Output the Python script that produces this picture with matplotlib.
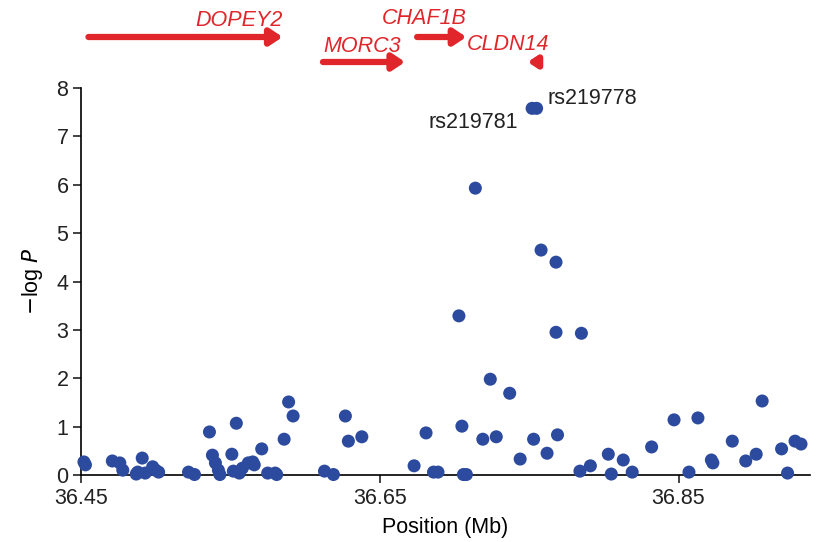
import matplotlib
matplotlib.use("Agg")
import matplotlib.pyplot as plt

plt.rcParams.update({
    "font.family": ["Liberation Sans", "DejaVu Sans"],
    "font.size": 15.5,
    "axes.linewidth": 1.2,
    "xtick.major.width": 1.2,
    "ytick.major.width": 1.2,
    "xtick.major.size": 6,
    "ytick.major.size": 6,
})

# SNP association data (position in Mb, -log P)
positions = [
    36.452, 36.453, 36.471, 36.476, 36.478, 36.491, 36.488, 36.487, 36.493, 36.498,
    36.500, 36.502, 36.522, 36.526, 36.536, 36.554, 36.538, 36.540, 36.542, 36.543,
    36.551, 36.552, 36.556, 36.558, 36.562, 36.565, 36.566, 36.571, 36.575, 36.580,
    36.581, 36.586, 36.589, 36.592, 36.613, 36.619, 36.627, 36.629, 36.638, 36.673,
    36.681, 36.686, 36.689, 36.703, 36.705, 36.706, 36.708, 36.714, 36.719, 36.724,
    36.728, 36.737, 36.744, 36.752, 36.755, 36.753, 36.758, 36.762, 36.768, 36.769,
    36.768, 36.785, 36.784, 36.791, 36.803, 36.805, 36.813, 36.819, 36.832, 36.847,
    36.857, 36.863, 36.872, 36.873, 36.886, 36.895, 36.902, 36.906, 36.919, 36.923,
    36.928, 36.932,
]
neg_log_p = [
    0.27, 0.21, 0.29, 0.25, 0.10, 0.35, 0.06, 0.02, 0.04, 0.17,
    0.10, 0.06, 0.06, 0.01, 0.89, 1.07, 0.41, 0.25, 0.10, 0.01,
    0.43, 0.08, 0.04, 0.14, 0.25, 0.27, 0.21, 0.54, 0.04, 0.04,
    0.01, 0.74, 1.51, 1.22, 0.08, 0.01, 1.22, 0.70, 0.79, 0.19,
    0.87, 0.06, 0.06, 3.29, 1.01, 0.01, 0.01, 5.93, 0.74, 1.98,
    0.79, 1.69, 0.33, 7.58, 7.58, 0.74, 4.65, 0.45, 4.40, 0.83,
    2.95, 2.93, 0.08, 0.19, 0.43, 0.02, 0.31, 0.06, 0.58, 1.14,
    0.06, 1.18, 0.31, 0.25, 0.70, 0.29, 0.43, 1.53, 0.54, 0.04,
    0.70, 0.64,
]

# lead SNPs
snp_names = ["rs219781", "rs219778"]
snp_pos = [36.752, 36.755]
snp_val = [7.58, 7.58]

# genes: name, start, end (Mb); end < start means reverse strand
gene_names = ["DOPEY2", "MORC3", "CHAF1B", "CLDN14"]
gene_start = [36.455, 36.612, 36.675, 36.757]
gene_end = [36.585, 36.667, 36.708, 36.749]

xticks = [36.45, 36.65, 36.85]
xlim = (36.45, 36.938)

BLUE = "#2C4A9E"
RED = "#E0262B"

fig = plt.figure(figsize=(8.17, 5.42), dpi=100)
ax = fig.add_axes([0.0991, 0.1236, 0.8923, 0.714])

ax.scatter(positions, neg_log_p, s=88, color=BLUE, edgecolors="none",
           zorder=3, clip_on=False)

ax.set_xlim(*xlim)
ax.set_ylim(0, 8)
ax.set_xticks(xticks)
ax.set_xticklabels([f"{t:.2f}" for t in xticks])
ax.set_yticks(range(0, 9))
ax.spines["top"].set_visible(False)
ax.spines["right"].set_visible(False)
ax.tick_params(axis="both", colors="#222222", labelcolor="#222222", pad=3)
ax.set_xlabel("Position (Mb)", labelpad=6)
ax.set_ylabel(r"$-$log $\it{P}$", labelpad=8)

# lead SNP labels
ax.annotate(snp_names[0], xy=(snp_pos[0], snp_val[0]), xytext=(-10, -10),
            textcoords="offset points", ha="right", va="center", fontsize=15.5,
            color="#222222")
ax.annotate(snp_names[1], xy=(snp_pos[1], snp_val[1]), xytext=(8, 7),
            textcoords="offset points", ha="left", va="center", fontsize=15.5,
            color="#222222")

# gene track above the plot
gax = fig.add_axes([0.0991, 1 - 80 / 542, 0.8923, 80 / 542])
gax.set_xlim(*xlim)
gax.set_ylim(80, 0)
gax.axis("off")

rows = [37, 62, 37, 62]
label_dy = [-17, -16, -18, -17]
label_x = [gene_end[0], gene_start[1], gene_end[2], gene_end[2]]
label_ha = ["right", "left", "right", "left"]
head_scale = [16, 16, 16, 11]
for name, s, e, row, dy, tx, ha, hs in zip(gene_names, gene_start, gene_end,
                                           rows, label_dy, label_x, label_ha,
                                           head_scale):
    gax.annotate("", xy=(e, row), xytext=(s, row),
                 arrowprops=dict(arrowstyle="-|>,head_length=0.45,head_width=0.3",
                                 lw=4.5, color=RED, shrinkA=0, shrinkB=0,
                                 mutation_scale=hs))
    gax.text(tx, row + dy, name, ha=ha, va="center", color=RED,
             fontsize=15.5, style="italic")

fig.savefig("out.png", dpi=100)
